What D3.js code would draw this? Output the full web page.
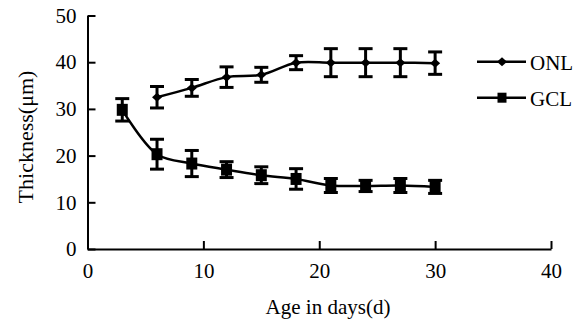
<!DOCTYPE html>
<html>
<head>
<meta charset="utf-8">
<script src="https://cdn.jsdelivr.net/npm/d3@7"></script>
<style>
  body { margin: 0; background: #fff; }
  text { font-family: "Liberation Serif", "Times New Roman", serif; fill: #000; }
</style>
</head>
<body>
<script>
var w = 588;
var h = 320;

// data: day, mean, error
var days = [3, 6, 9, 12, 15, 18, 21, 24, 27, 30];
var onlDays = [6, 9, 12, 15, 18, 21, 24, 27, 30];
var onlMean = [32.5, 34.5, 36.8, 37.3, 39.9, 39.9, 39.9, 39.9, 39.8];
var onlErr  = [2.3, 1.8, 2.2, 1.6, 1.5, 3.0, 3.0, 3.0, 2.4];
var gclMean = [29.8, 20.3, 18.3, 17.0, 15.8, 15.0, 13.6, 13.5, 13.6, 13.3];
var gclErr  = [2.4, 3.2, 2.8, 1.7, 1.8, 2.2, 1.5, 1.2, 1.5, 1.4];
var xTicks = [0, 10, 20, 30, 40];
var yTicks = [0, 10, 20, 30, 40, 50];

var svg = d3.select("body")
    .append("svg")
    .attr("width", w)
    .attr("height", h);

var x = d3.scaleLinear().domain([0, 40]).range([87.5, 551]);
var y = d3.scaleLinear().domain([0, 50]).range([249, 15.5]);

// axes, ticks pointing inward
var xAxis = svg.append("g")
    .attr("transform", "translate(0," + y(0) + ")")
    .call(d3.axisBottom(x).tickValues(xTicks).tickSizeInner(-8).tickSizeOuter(0).tickPadding(14));

var yAxis = svg.append("g")
    .attr("transform", "translate(" + x(0) + ",0)")
    .call(d3.axisLeft(y).tickValues(yTicks).tickSizeInner(-8).tickSizeOuter(0).tickPadding(11));

[xAxis, yAxis].forEach(function(g) {
  g.selectAll("path, line").attr("stroke", "#000").attr("stroke-width", 2);
  g.selectAll("text").style("font-size", "21px").attr("fill", "#000")
      .style("font-family", "'Liberation Serif', serif");
});

// axis titles
svg.append("text")
    .attr("x", 328)
    .attr("y", 314)
    .attr("text-anchor", "middle")
    .style("font-size", "21px")
    .text("Age in days(d)");

svg.append("text")
    .attr("transform", "translate(33,137) rotate(-90)")
    .attr("text-anchor", "middle")
    .style("font-size", "22px")
    .text("Thickness(μm)");

function makeSeries(xs, means, errs) {
  return xs.map(function(d, i) { return {x: d, m: means[i], e: errs[i]}; });
}

var onl = makeSeries(onlDays, onlMean, onlErr);
var gcl = makeSeries(days, gclMean, gclErr);

var line = d3.line()
    .x(function(d) { return x(d.x); })
    .y(function(d) { return y(d.m); })
    .curve(d3.curveCatmullRom.alpha(0.5));

function drawSeries(data, marker) {
  var g = svg.append("g");

  g.append("path")
      .datum(data)
      .attr("d", line)
      .attr("fill", "none")
      .attr("stroke", "#000")
      .attr("stroke-width", 2.5);

  // error bars
  var bars = g.selectAll(".err")
      .data(data)
      .enter()
      .append("g")
      .attr("class", "err")
      .attr("stroke", "#000")
      .attr("stroke-width", 3);

  bars.append("line")
      .attr("x1", function(d) { return x(d.x); })
      .attr("x2", function(d) { return x(d.x); })
      .attr("y1", function(d) { return y(d.m - d.e); })
      .attr("y2", function(d) { return y(d.m + d.e); });

  bars.append("line")
      .attr("x1", function(d) { return x(d.x) - 7; })
      .attr("x2", function(d) { return x(d.x) + 7; })
      .attr("y1", function(d) { return y(d.m + d.e); })
      .attr("y2", function(d) { return y(d.m + d.e); });

  bars.append("line")
      .attr("x1", function(d) { return x(d.x) - 7; })
      .attr("x2", function(d) { return x(d.x) + 7; })
      .attr("y1", function(d) { return y(d.m - d.e); })
      .attr("y2", function(d) { return y(d.m - d.e); });

  g.selectAll(".mk")
      .data(data)
      .enter()
      .append("path")
      .attr("class", "mk")
      .attr("d", marker)
      .attr("transform", function(d) { return "translate(" + x(d.x) + "," + y(d.m) + ")"; })
      .attr("fill", "#000");
}

var diamond = "M-5,0L0,-4.5L5,0L0,4.5Z";
var square = "M-5.5,-6L5.5,-6L5.5,6L-5.5,6Z";
var legendSquare = "M-4.5,-5L4.5,-5L4.5,5L-4.5,5Z";

drawSeries(onl, diamond);
drawSeries(gcl, square);

// legend
var legend = [
  {name: "ONL", y: 61.7, marker: diamond},
  {name: "GCL", y: 97.7, marker: legendSquare}
];

var lg = svg.selectAll(".legend")
    .data(legend)
    .enter()
    .append("g")
    .attr("class", "legend");

lg.append("line")
    .attr("x1", 477)
    .attr("x2", 526)
    .attr("y1", function(d) { return d.y; })
    .attr("y2", function(d) { return d.y; })
    .attr("stroke", "#000")
    .attr("stroke-width", 2.5);

lg.append("path")
    .attr("d", function(d) { return d.marker; })
    .attr("transform", function(d) { return "translate(502," + d.y + ")"; })
    .attr("fill", "#000");

lg.append("text")
    .attr("x", 530)
    .attr("y", function(d) { return d.y + 8; })
    .style("font-size", "21px")
    .text(function(d) { return d.name; });
</script>
</body>
</html>
